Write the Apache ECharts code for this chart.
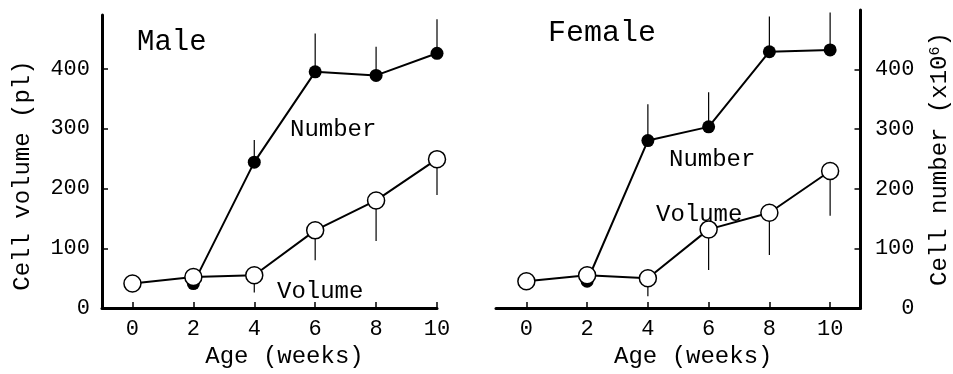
<!DOCTYPE html>
<html>
<head>
<meta charset="utf-8">
<script src="https://cdn.jsdelivr.net/npm/echarts@6/dist/echarts.min.js"></script>
<style>
html,body{margin:0;padding:0;background:#fff;}
#c{width:953px;height:374px;}
</style>
</head>
<body>
<div id="c"></div>
<script>
// ---- data ----
var ages = [0, 2, 4, 6, 8, 10];
var xTicks = [0, 2, 4, 6, 8, 10];
var yTicks = [0, 100, 200, 300, 400];
var maleNumber = [null, 41, 244, 395, 389, 426];
var maleNumberErrTop = [null, null, 281, 459, 437, 483];
var maleVolume = [41, 52, 55, 130, 180, 249];
var maleVolumeErrBottom = [null, null, 26, 80, 112, 189];
var femaleNumber = [null, 45, 281, 304, 430, 433];
var femaleNumberErrTop = [null, null, 342, 362, 489, 496];
var femaleVolume = [45, 55, 50, 132, 160, 230];
var femaleVolumeErrBottom = [null, null, 20, 64, 89, 155];
var panelTitles = ['Male', 'Female'];
var xName = 'Age (weeks)';
var yNameLeft = 'Cell volume (pl)';

// ---- helpers ----
var FONT = '"Liberation Mono", "DejaVu Sans Mono", monospace';
function pairs(vals) {
  var out = [];
  for (var i = 0; i < ages.length; i++) if (vals[i] != null) out.push([ages[i], vals[i]]);
  return out;
}
function errData(vals, ends) {
  var out = [];
  for (var i = 0; i < ages.length; i++) if (ends[i] != null) out.push([ages[i], vals[i], ends[i]]);
  return out;
}
function errSeries(idx, data) {
  return {
    type: 'custom', xAxisIndex: idx, yAxisIndex: idx, z: 1, silent: true,
    data: data,
    renderItem: function (params, api) {
      var p0 = api.coord([api.value(0), api.value(1)]);
      var p1 = api.coord([api.value(0), api.value(2)]);
      return { type: 'line', shape: { x1: p0[0], y1: p0[1], x2: p1[0], y2: p1[1] },
        style: { stroke: '#000', lineWidth: 1.2 } };
    }
  };
}
function numSeries(idx, vals) {
  return { type: 'line', xAxisIndex: idx, yAxisIndex: idx, z: 3, data: pairs(vals),
    symbol: 'circle', symbolSize: 13, lineStyle: { color: '#000', width: 2 },
    itemStyle: { color: '#000', borderColor: '#000', borderWidth: 0 }, animation: false };
}
function volSeries(idx, vals) {
  return { type: 'line', xAxisIndex: idx, yAxisIndex: idx, z: 4, data: pairs(vals),
    symbol: 'circle', symbolSize: 17, lineStyle: { color: '#000', width: 2 },
    itemStyle: { color: '#fff', borderColor: '#000', borderWidth: 1.5 }, animation: false };
}
function xAxis(idx, max) {
  return {
    type: 'value', gridIndex: idx, min: -1, max: max,
    name: xName, nameLocation: 'middle', nameGap: 33,
    nameTextStyle: { fontFamily: FONT, fontSize: 24, color: '#000', padding: [0, 0, 0, 30] },
    axisLine: { show: true, onZero: false, lineStyle: { color: '#000', width: 3 } },
    axisTick: { show: true, inside: true, length: 6, customValues: xTicks, lineStyle: { color: '#000', width: 1.5 } },
    axisLabel: { customValues: xTicks, margin: 10, fontFamily: FONT, fontSize: 22, color: '#000' },
    splitLine: { show: false }
  };
}

var chart = echarts.init(document.getElementById('c'), null, { renderer: 'canvas' });
chart.setOption({
  backgroundColor: '#fff',
  animation: false,
  grid: [
    { left: 102, top: 15, width: 335, height: 302 },
    { left: 496, top: 10, width: 365, height: 304 }
  ],
  xAxis: [xAxis(0, 10), xAxis(1, 11)],
  yAxis: [
    {
      type: 'value', gridIndex: 0, min: 0, max: 490, position: 'left',
      name: yNameLeft, nameLocation: 'middle', nameGap: 67, nameRotate: 90,
      nameTextStyle: { fontFamily: FONT, fontSize: 24, color: '#000', padding: [0, 28, 0, 0] },
      axisLine: { show: true, onZero: false, lineStyle: { color: '#000', width: 3 } },
      axisTick: { show: true, inside: true, length: 6, customValues: yTicks, lineStyle: { color: '#000', width: 1.5 } },
      axisLabel: { customValues: yTicks, margin: 12, fontFamily: FONT, fontSize: 22, color: '#000' },
      splitLine: { show: false }
    },
    {
      type: 'value', gridIndex: 1, min: 0, max: 500, position: 'right',
      name: 'Cell number (x10{sup|6})', nameLocation: 'middle', nameGap: 67, nameRotate: 90,
      nameTextStyle: { fontFamily: FONT, fontSize: 24, color: '#000', padding: [0, 0, 0, 0],
        rich: { sup: { fontFamily: FONT, fontSize: 15, color: '#000', verticalAlign: 'top', padding: [0, 0, 10, 0] } } },
      axisLine: { show: true, onZero: false, lineStyle: { color: '#000', width: 3 } },
      axisTick: { show: true, inside: true, length: 6, customValues: yTicks, lineStyle: { color: '#000', width: 1.5 } },
      axisLabel: { customValues: yTicks, margin: 54, align: 'right', fontFamily: FONT, fontSize: 22, color: '#000' },
      splitLine: { show: false }
    }
  ],
  graphic: [
    { type: 'text', x: 137, y: 42, style: { text: panelTitles[0], font: '29px ' + FONT, fill: '#000', verticalAlign: 'middle' } },
    { type: 'text', x: 548, y: 33, style: { text: panelTitles[1], font: '30px ' + FONT, fill: '#000', verticalAlign: 'middle' } },
    { type: 'text', x: 290, y: 130, style: { text: 'Number', font: '24px ' + FONT, fill: '#000', verticalAlign: 'middle' } },
    { type: 'text', x: 277, y: 292, style: { text: 'Volume', font: '24px ' + FONT, fill: '#000', verticalAlign: 'middle' } },
    { type: 'text', x: 669, y: 160, style: { text: 'Number', font: '24px ' + FONT, fill: '#000', verticalAlign: 'middle' } },
    { type: 'text', x: 656, y: 215, style: { text: 'Volume', font: '24px ' + FONT, fill: '#000', verticalAlign: 'middle' } }
  ],
  series: [
    errSeries(0, errData(maleNumber, maleNumberErrTop)),
    errSeries(0, errData(maleVolume, maleVolumeErrBottom)),
    numSeries(0, maleNumber),
    volSeries(0, maleVolume),
    errSeries(1, errData(femaleNumber, femaleNumberErrTop)),
    errSeries(1, errData(femaleVolume, femaleVolumeErrBottom)),
    numSeries(1, femaleNumber),
    volSeries(1, femaleVolume)
  ]
});
</script>
</body>
</html>
